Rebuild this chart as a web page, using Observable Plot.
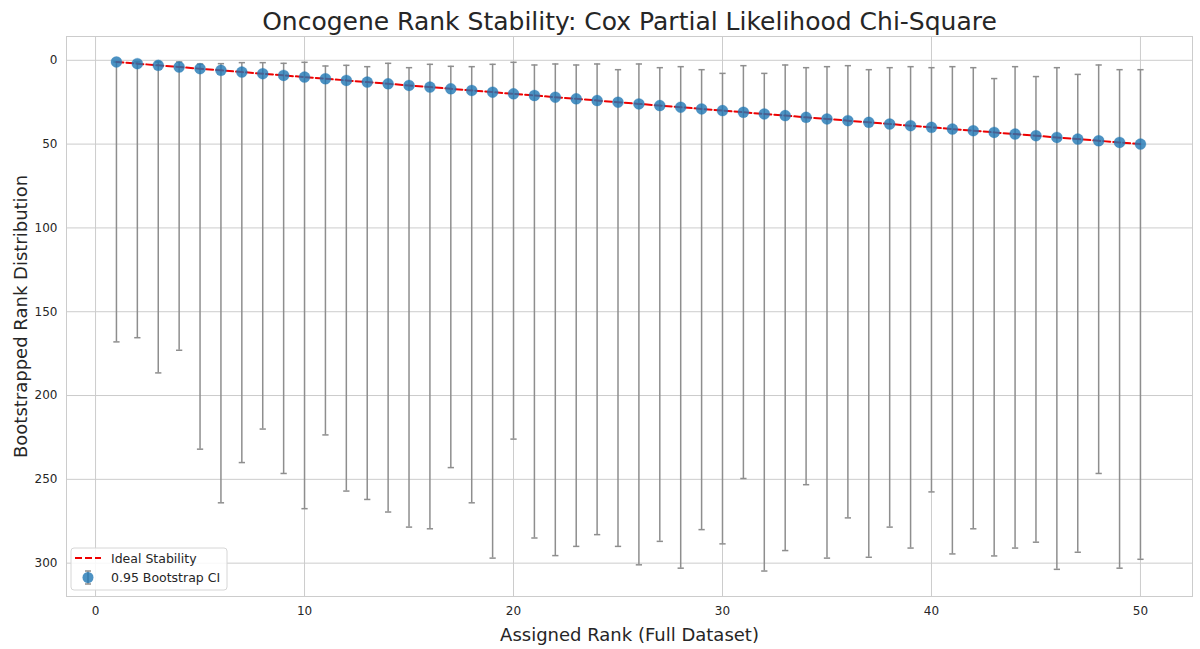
<!DOCTYPE html>
<html>
<head>
<meta charset="utf-8">
<script src="https://cdn.jsdelivr.net/npm/d3@7"></script>
<script src="https://cdn.jsdelivr.net/npm/@observablehq/plot@0.6"></script>
<style>
  html, body { margin: 0; padding: 0; background: #fff; }
  #chart svg { display: block; }
</style>
</head>
<body>
<div id="chart"></div>
<script>
const ranks = [1,2,3,4,5,6,7,8,9,10,11,12,13,14,15,16,17,18,19,20,21,22,23,24,25,26,27,28,29,30,31,32,33,34,35,36,37,38,39,40,41,42,43,44,45,46,47,48,49,50];
const lowerCI = [1,1,1,1,2.2,2,1.4,1.4,1.8,1.2,3.4,3,3.8,1.8,4.4,2.4,3.6,3.8,2.4,1.2,2.8,2.2,2.8,2.2,5.6,2.2,4.4,3.8,5.6,7.8,3.2,7.8,2.8,4.4,3.8,3.2,5.6,4.4,3.8,4.4,3.8,4.4,10.9,3.8,9.7,4.4,8.4,2.8,5.6,5.6];
const upperCI = [168,165.5,186.5,173,232,264,240,220,246.5,267.5,223.5,257,262,269.5,278.5,279.5,243,264,297,226,285,295.5,290,283,290,301,287,303,280,288.5,249.5,304.7,292.5,253.2,297,273,296.5,278.5,291,257.5,294.5,279.5,295.7,291,287.5,303.7,293.5,246.5,303,297.7];
const xTicks = [0,10,20,30,40,50];
const yTicks = [0,50,100,150,200,250,300];
const titleText = "Oncogene Rank Stability: Cox Partial Likelihood Chi-Square";
const xLabel = "Assigned Rank (Full Dataset)";
const yLabel = "Bootstrapped Rank Distribution";
const legendLabels = ["Ideal Stability", "0.95 Bootstrap CI"];

const data = ranks.map((r, i) => ({rank: r, bootRank: r, lo: lowerCI[i], hi: upperCI[i]}));

const W = 1200, H = 649;
const mL = 66, mR = 8, mT = 36, mB = 53;
const capHalf = 0.15;
const font = "DejaVu Sans";

const plot = Plot.plot({
  width: W,
  height: H,
  marginLeft: mL,
  marginRight: mR,
  marginTop: mT,
  marginBottom: mB,
  style: {fontFamily: font, background: "#fff", color: "#262626"},
  x: {domain: [-1.39, 52.49]},
  y: {domain: [-14.2, 319.9], reverse: true},
  marks: [
    Plot.gridX(xTicks, {stroke: "#cccccc", strokeOpacity: 1, strokeWidth: 1}),
    Plot.gridY(yTicks, {stroke: "#cccccc", strokeOpacity: 1, strokeWidth: 1}),
    Plot.frame({stroke: "#cccccc", strokeWidth: 1}),
    Plot.axisX(xTicks, {tickSize: 0, tickPadding: 10, fontSize: 12, label: null, fill: "#262626"}),
    Plot.axisY(yTicks, {tickSize: 0, tickPadding: 9, fontSize: 12, label: null, fill: "#262626"}),
    Plot.ruleX(data, {x: "rank", y1: "lo", y2: "hi", stroke: "#8e8e8e", strokeWidth: 1.5}),
    Plot.link(data, {x1: d => d.rank - capHalf, x2: d => d.rank + capHalf, y1: "lo", y2: "lo", stroke: "#8e8e8e", strokeWidth: 1.5}),
    Plot.link(data, {x1: d => d.rank - capHalf, x2: d => d.rank + capHalf, y1: "hi", y2: "hi", stroke: "#8e8e8e", strokeWidth: 1.5}),
    Plot.line(data, {x: "rank", y: "rank", stroke: "#ee0000", strokeWidth: 2, strokeDasharray: "7,3"}),
    Plot.dot(data, {x: "rank", y: "bootRank", r: 5.5, fill: "#1f77b4", fillOpacity: 0.8, stroke: "#1f77b4", strokeOpacity: 0.5, strokeWidth: 0.5}),
    Plot.text([titleText], {frameAnchor: "top", dy: -7, lineAnchor: "bottom", textAnchor: "middle", fontSize: 25, fill: "#262626"}),
    Plot.text([xLabel], {frameAnchor: "bottom", dy: 44, lineAnchor: "bottom", textAnchor: "middle", fontSize: 18, fill: "#262626"}),
    Plot.text([yLabel], {frameAnchor: "left", dx: -52, rotate: -90, lineAnchor: "top", textAnchor: "middle", fontSize: 18, fill: "#262626"})
  ]
});

document.getElementById("chart").appendChild(plot);

// Legend
const svg = d3.select(plot);
const lg = svg.append("g").attr("font-family", font).attr("font-size", 12.5).attr("fill", "#262626").attr("text-anchor", "start");
lg.append("rect").attr("x", 71).attr("y", 548).attr("width", 156).attr("height", 42)
  .attr("rx", 3).attr("fill", "#ffffff").attr("fill-opacity", 0.85).attr("stroke", "#d6d6d6").attr("stroke-width", 1);
lg.append("line").attr("x1", 75).attr("x2", 101).attr("y1", 558).attr("y2", 558)
  .attr("stroke", "#ee0000").attr("stroke-width", 2).attr("stroke-dasharray", "7,3");
lg.append("text").attr("x", 111).attr("y", 562.5).attr("text-anchor", "start").text(legendLabels[0]);
lg.append("line").attr("x1", 88).attr("x2", 88).attr("y1", 571).attr("y2", 584).attr("stroke", "#8e8e8e").attr("stroke-width", 1.5);
lg.append("line").attr("x1", 85).attr("x2", 91).attr("y1", 571).attr("y2", 571).attr("stroke", "#8e8e8e").attr("stroke-width", 1.5);
lg.append("line").attr("x1", 85).attr("x2", 91).attr("y1", 584).attr("y2", 584).attr("stroke", "#8e8e8e").attr("stroke-width", 1.5);
lg.append("circle").attr("cx", 88).attr("cy", 577.5).attr("r", 5.5).attr("fill", "#1f77b4").attr("fill-opacity", 0.8);
lg.append("text").attr("x", 111).attr("y", 582).attr("text-anchor", "start").text(legendLabels[1]);
</script>
</body>
</html>
